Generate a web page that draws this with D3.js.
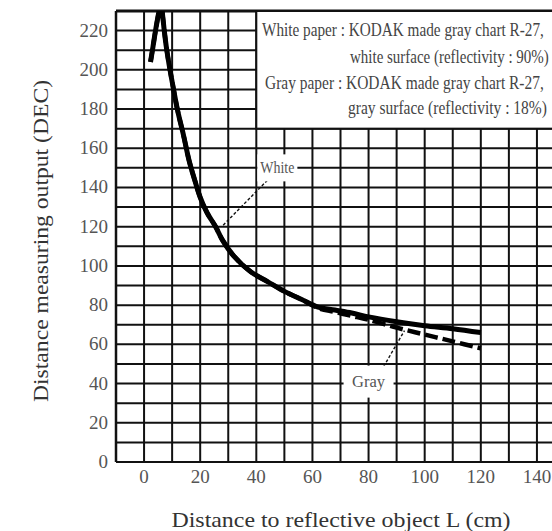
<!DOCTYPE html>
<html>
<head>
<meta charset="utf-8">
<script src="https://cdn.jsdelivr.net/npm/d3@7"></script>
<style>
  body { margin: 0; background: #fff; }
  text { font-family: "Liberation Serif", "DejaVu Serif", serif; }
</style>
</head>
<body>
<svg width="552" height="531"></svg>
<script>
// data
const xLabels = [0, 20, 40, 60, 80, 100, 120, 140]
const yLabels = [0, 20, 40, 60, 80, 100, 120, 140, 160, 180, 200, 220]
const whiteX = [2.3, 3.2, 4.2, 5.2, 6, 6.6, 7.2, 8, 9, 10, 12, 14, 16, 18, 20, 22.5, 25.5, 28, 32, 38, 44, 50, 56, 62, 68, 74, 80, 90, 100, 110, 120]
const whiteY = [204, 212, 221, 229, 235, 228, 220, 211, 202, 194, 179, 167, 154, 144, 135, 127, 120, 113, 105, 97, 92, 87, 83, 79, 77.5, 76, 74, 71.5, 69.5, 68, 66]
const grayX = [2.3, 3.2, 4.2, 5.2, 6, 6.6, 7.2, 8, 9, 10, 12, 14, 16, 18, 20, 22.5, 25.5, 28, 32, 38, 44, 50, 56, 62, 68, 74, 80, 90, 100, 110, 120]
const grayY = [204, 212, 221, 229, 235, 228, 220, 211, 202, 194, 179, 167, 154, 144, 135, 127, 120, 113, 105, 97, 92, 87, 83, 78.5, 76.5, 74.5, 72.5, 68.5, 65, 61.5, 58]
const legendLines = [
  'White paper : KODAK made gray chart R-27,',
  'white surface (reflectivity : 90%)',
  'Gray paper : KODAK made gray chart R-27,',
  'gray surface (reflectivity : 18%)'
]
// curve labels: name, label anchor, leader end (data units)
const curveLabels = [
  { name: 'White', x: 47.5, y: 150, lx1: 45.2, ly1: 145.5, lx2: 28, ly2: 120.5 },
  { name: 'Gray', x: 80, y: 41, lx1: 84.5, ly1: 46.5, lx2: 92.8, ly2: 67 }
]

let svg = d3.select('svg')
let x = d3.scaleLinear().domain([-10, 150]).range([116, 565])
let y = d3.scaleLinear().domain([0, 230]).range([462, 11])

// grid
svg.append('g')
  .selectAll('line')
  .data(d3.range(-10, 151, 10))
  .enter()
  .append('line')
  .attr('x1', d => x(d)).attr('x2', d => x(d))
  .attr('y1', y(230)).attr('y2', y(0))
  .attr('stroke', '#111').attr('stroke-width', 2)
svg.append('g')
  .selectAll('line')
  .data(d3.range(0, 231, 10))
  .enter()
  .append('line')
  .attr('x1', x(-10)).attr('x2', x(150))
  .attr('y1', d => y(d)).attr('y2', d => y(d))
  .attr('stroke', '#111').attr('stroke-width', 2)

// border
svg.append('line').attr('x1', x(-10)).attr('x2', x(150)).attr('y1', y(230)).attr('y2', y(230))
  .attr('stroke', '#111').attr('stroke-width', 3)
svg.append('line').attr('x1', x(-10)).attr('x2', x(-10)).attr('y1', y(230)).attr('y2', y(0))
  .attr('stroke', '#111').attr('stroke-width', 2.5)

// legend box
svg.append('rect')
  .attr('x', x(40)).attr('y', y(230))
  .attr('width', x(150) - x(40)).attr('height', y(170) - y(230))
  .attr('fill', '#fff').attr('stroke', '#111').attr('stroke-width', 2)
// condensed text: squeeze horizontally to a target width
function squeeze (sel, tx, ty, w) {
  let n = sel.node().getComputedTextLength()
  sel.attr('transform', 'translate(' + tx + ',' + ty + ') scale(' + (w / n) + ',1)')
}
let legendPos = [[262, 36, 282], [350, 63, 199], [265, 89, 279], [348, 114, 199]]
legendLines.forEach(function (s, i) {
  let t = svg.append('text')
    .attr('font-size', 18)
    .attr('fill', '#444')
    .text(s)
  squeeze(t, legendPos[i][0], legendPos[i][1], legendPos[i][2])
})

// curves
let clip = svg.append('clipPath').attr('id', 'plotclip')
clip.append('rect').attr('x', x(-10)).attr('y', y(230)).attr('width', x(150) - x(-10)).attr('height', y(0) - y(230))
let line = d3.line().x(d => x(d[0])).y(d => y(d[1])).curve(d3.curveCatmullRom)
svg.append('path')
  .attr('d', line(d3.zip(grayX, grayY)))
  .attr('clip-path', 'url(#plotclip)')
  .attr('fill', 'none').attr('stroke', '#000').attr('stroke-width', 4.5)
  .attr('stroke-dasharray', '13,5')
svg.append('path')
  .attr('d', line(d3.zip(whiteX, whiteY)))
  .attr('clip-path', 'url(#plotclip)')
  .attr('fill', 'none').attr('stroke', '#000').attr('stroke-width', 5)

// curve labels with leaders
let boxSize = { White: [40, 27], Gray: [50, 32] }
let lab = svg.append('g')
lab.selectAll('line')
  .data(curveLabels)
  .enter()
  .append('line')
  .attr('x1', d => x(d.lx1)).attr('y1', d => y(d.ly1))
  .attr('x2', d => x(d.lx2)).attr('y2', d => y(d.ly2))
  .attr('stroke', '#111').attr('stroke-width', 1.4)
  .attr('stroke-dasharray', '3,2')
lab.selectAll('rect')
  .data(curveLabels)
  .enter()
  .append('rect')
  .attr('x', d => x(d.x) - boxSize[d.name][0] / 2)
  .attr('y', d => y(d.y) - boxSize[d.name][1] / 2)
  .attr('width', d => boxSize[d.name][0])
  .attr('height', d => boxSize[d.name][1])
  .attr('fill', '#fff')
lab.selectAll('text')
  .data(curveLabels)
  .enter()
  .append('text')
  .attr('x', d => x(d.x))
  .attr('y', d => y(d.y) + 5)
  .attr('text-anchor', 'middle')
  .attr('font-size', 16)
  .attr('fill', '#555')
  .attr('textLength', d => d.name === 'White' ? 34 : 33)
  .attr('lengthAdjust', 'spacingAndGlyphs')
  .text(d => d.name)

// tick labels
svg.append('g')
  .selectAll('text')
  .data(yLabels)
  .enter()
  .append('text')
  .attr('x', 108)
  .attr('y', d => y(d) + 6)
  .attr('text-anchor', 'end')
  .attr('font-size', 19)
  .attr('fill', '#555')
  .text(d => d)
svg.append('g')
  .selectAll('text')
  .data(xLabels)
  .enter()
  .append('text')
  .attr('x', d => x(d))
  .attr('y', 483)
  .attr('text-anchor', 'middle')
  .attr('font-size', 19)
  .attr('fill', '#555')
  .text(d => d)

// axis titles
svg.append('text')
  .attr('transform', 'translate(48,241) rotate(-90)')
  .attr('text-anchor', 'middle')
  .attr('font-size', 21)
  .attr('fill', '#333')
  .attr('textLength', 322)
  .attr('lengthAdjust', 'spacingAndGlyphs')
  .text('Distance measuring output (DEC)')
svg.append('text')
  .attr('x', 341)
  .attr('y', 527)
  .attr('text-anchor', 'middle')
  .attr('font-size', 21)
  .attr('fill', '#333')
  .attr('textLength', 339)
  .attr('lengthAdjust', 'spacingAndGlyphs')
  .text('Distance to reflective object L (cm)')
</script>
</body>
</html>
